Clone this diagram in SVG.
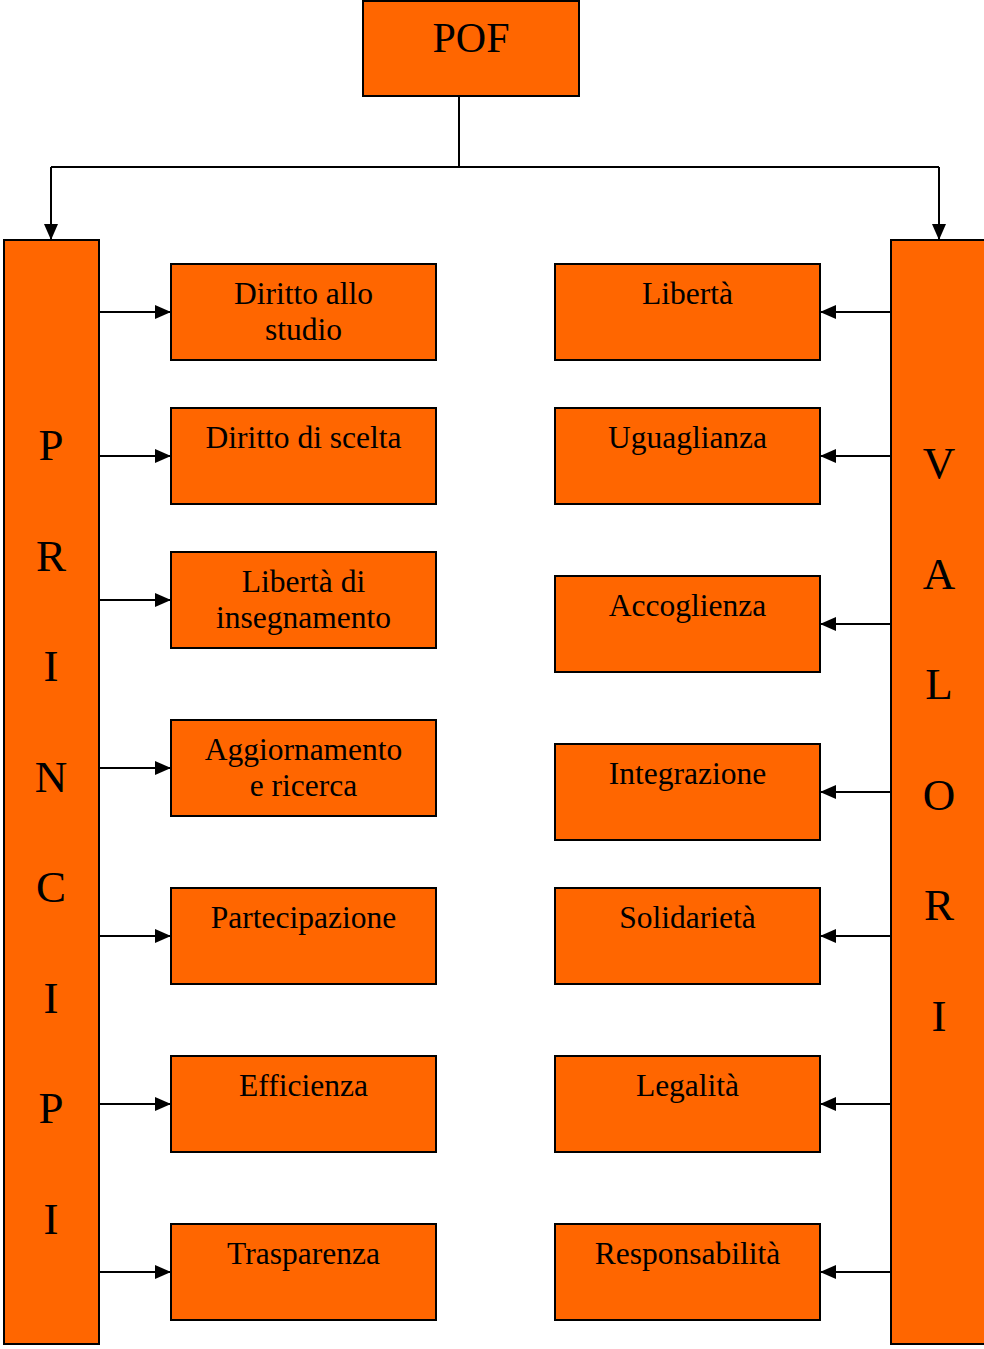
<svg xmlns="http://www.w3.org/2000/svg" width="984" height="1349" viewBox="0 0 984 1349">
<style>
.box{fill:#FF6600;stroke:#000;stroke-width:2}
.t{font-family:"Liberation Serif","Times New Roman",serif;font-size:31.5px;fill:#000;text-anchor:middle}
.big{font-family:"Liberation Serif","Times New Roman",serif;font-size:45px;fill:#000;text-anchor:middle}
.c{stroke:#000;stroke-width:2;fill:none}
</style>
<defs>
<marker id="ah" markerWidth="16" markerHeight="16" refX="16" refY="8" orient="auto" markerUnits="userSpaceOnUse">
<path d="M0,1 L16,8 L0,15 Z" fill="#000"/>
</marker>
</defs>
<rect width="984" height="1349" fill="#fff"/>
<g id="connectors">
<path class="c" d="M459,96 V167"/>
<path class="c" d="M51,167 H939"/>
<path class="c" d="M51,167 V240" marker-end="url(#ah)"/>
<path class="c" d="M939,167 V240" marker-end="url(#ah)"/>
<path class="c" d="M99,312 H171" marker-end="url(#ah)"/>
<path class="c" d="M99,456 H171" marker-end="url(#ah)"/>
<path class="c" d="M99,600 H171" marker-end="url(#ah)"/>
<path class="c" d="M99,768 H171" marker-end="url(#ah)"/>
<path class="c" d="M99,936 H171" marker-end="url(#ah)"/>
<path class="c" d="M99,1104 H171" marker-end="url(#ah)"/>
<path class="c" d="M99,1272 H171" marker-end="url(#ah)"/>
<path class="c" d="M891,312 H820" marker-end="url(#ah)"/>
<path class="c" d="M891,456 H820" marker-end="url(#ah)"/>
<path class="c" d="M891,624 H820" marker-end="url(#ah)"/>
<path class="c" d="M891,792 H820" marker-end="url(#ah)"/>
<path class="c" d="M891,936 H820" marker-end="url(#ah)"/>
<path class="c" d="M891,1104 H820" marker-end="url(#ah)"/>
<path class="c" d="M891,1272 H820" marker-end="url(#ah)"/>
</g>
<g id="pof"><rect class="box" x="363" y="1" width="216" height="95"/><text class="t" x="471" y="52" style="font-size:42px">POF</text></g>
<g id="principi"><rect class="box" x="4" y="240" width="95" height="1104"/>
<text class="big" x="51" y="460">P</text><text class="big" x="51" y="571">R</text><text class="big" x="51" y="681">I</text><text class="big" x="51" y="792">N</text><text class="big" x="51" y="902">C</text><text class="big" x="51" y="1013">I</text><text class="big" x="51" y="1123">P</text><text class="big" x="51" y="1234">I</text></g>
<g id="valori"><rect class="box" x="891" y="240" width="100" height="1104"/>
<text class="big" x="939" y="478">V</text><text class="big" x="939" y="589">A</text><text class="big" x="939" y="699">L</text><text class="big" x="939" y="810">O</text><text class="big" x="939" y="920">R</text><text class="big" x="939" y="1031">I</text></g>
<g id="diritto-allo-studio"><rect class="box" x="171" y="264" width="265" height="96"/><text class="t" x="303.5" y="304">Diritto allo</text><text class="t" x="303.5" y="340">studio</text></g>
<g id="diritto-di-scelta"><rect class="box" x="171" y="408" width="265" height="96"/><text class="t" x="303.5" y="448">Diritto di scelta</text></g>
<g id="liberta-insegnamento"><rect class="box" x="171" y="552" width="265" height="96"/><text class="t" x="303.5" y="592">Libertà di</text><text class="t" x="303.5" y="628">insegnamento</text></g>
<g id="aggiornamento"><rect class="box" x="171" y="720" width="265" height="96"/><text class="t" x="303.5" y="760">Aggiornamento</text><text class="t" x="303.5" y="796">e ricerca</text></g>
<g id="partecipazione"><rect class="box" x="171" y="888" width="265" height="96"/><text class="t" x="303.5" y="928">Partecipazione</text></g>
<g id="efficienza"><rect class="box" x="171" y="1056" width="265" height="96"/><text class="t" x="303.5" y="1096">Efficienza</text></g>
<g id="trasparenza"><rect class="box" x="171" y="1224" width="265" height="96"/><text class="t" x="303.5" y="1264">Trasparenza</text></g>
<g id="liberta"><rect class="box" x="555" y="264" width="265" height="96"/><text class="t" x="687.5" y="304">Libertà</text></g>
<g id="uguaglianza"><rect class="box" x="555" y="408" width="265" height="96"/><text class="t" x="687.5" y="448">Uguaglianza</text></g>
<g id="accoglienza"><rect class="box" x="555" y="576" width="265" height="96"/><text class="t" x="687.5" y="616">Accoglienza</text></g>
<g id="integrazione"><rect class="box" x="555" y="744" width="265" height="96"/><text class="t" x="687.5" y="784">Integrazione</text></g>
<g id="solidarieta"><rect class="box" x="555" y="888" width="265" height="96"/><text class="t" x="687.5" y="928">Solidarietà</text></g>
<g id="legalita"><rect class="box" x="555" y="1056" width="265" height="96"/><text class="t" x="687.5" y="1096">Legalità</text></g>
<g id="responsabilita"><rect class="box" x="555" y="1224" width="265" height="96"/><text class="t" x="687.5" y="1264">Responsabilità</text></g>
</svg>
